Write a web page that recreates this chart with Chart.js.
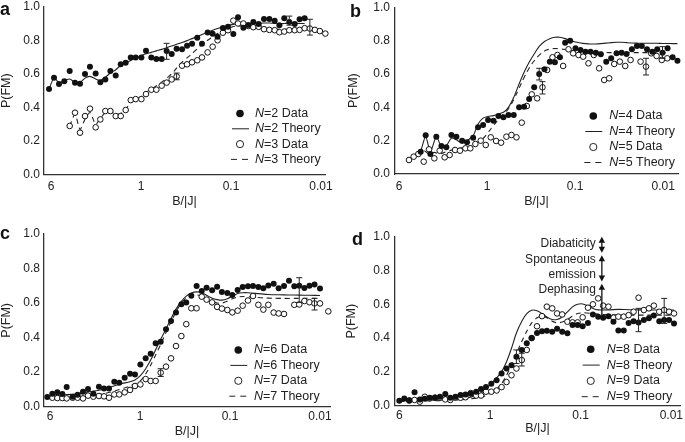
<!DOCTYPE html>
<html><head><meta charset="utf-8"><title>P(FM) vs B/|J|</title>
<script src="https://cdn.jsdelivr.net/npm/chart.js@4.4.1/dist/chart.umd.min.js"></script>
<style>
html,body{margin:0;padding:0;background:#fff;}
#wrap{position:relative;width:685px;height:442px;overflow:hidden;background:#fff;}
#wrap canvas{position:absolute;}
</style></head><body><div id="wrap">
<canvas id="ca" width="340" height="215" style="left:0;top:0"></canvas>
<canvas id="cb" width="340" height="215" style="left:345px;top:0"></canvas>
<canvas id="cc" width="340" height="227" style="left:0;top:215px"></canvas>
<canvas id="cd" width="340" height="227" style="left:345px;top:215px"></canvas>
</div>
<script>
// ---------- shared axis texts ----------
const xTickValues = [10, 1, 0.1, 0.01];
const xTickLabels = ['6', '1', '0.1', '0.01'];
const yTickValues = [0, 0.2, 0.4, 0.6, 0.8, 1.0];
const yTickLabels = ['0.0', '0.2', '0.4', '0.6', '0.8', '1.0'];
const xTitle = 'B/|J|';
const yTitle = 'P(FM)';
const legendKinds = ['Data', 'Theory', 'Data', 'Theory'];

// ---------- panel a : N=2, N=3 ----------
const xA = [10.52,9.26,8.15,7.11,6.20,5.41,4.76,4.19,3.69,3.19,2.83,2.49,2.19,1.91,1.68,1.48,1.30,1.146,0.99,0.88,0.768,0.675,0.589,0.519,0.456,0.402,0.350,0.308,0.271,0.237,0.210,0.182,0.160,0.141,0.123,0.108,0.0942,0.0836,0.0729,0.0642,0.0565,0.0493,0.0430,0.0375,0.0327,0.0290,0.0256,0.0225,0.0196,0.0173,0.0152,0.0133,0.0117,0.0103,0.00895];
const dataA2 = [0.51,0.577,0.54,0.556,0.617,0.548,0.542,0.60,0.643,0.603,
 0.55,0.567,0.617,0.591,0.657,0.667,0.698,0.698,0.698,0.738,
 0.698,0.688,0.688,0.736,0.718,0.75,0.746,0.768,0.78,0.815,
 0.78,0.847,0.839,0.821,0.873,0.881,0.837,0.937,0.875,0.891,
 0.909,0.897,0.927,0.927,0.917,0.889,0.931,0.909,0.897,0.925,
 0.931,null,null,null,null];
const dataA3 = [null,null,null,null,0.29,0.369,0.25,0.349,0.393,0.282,
 0.329,0.379,0.379,0.349,0.349,0.385,0.444,0.45,0.45,0.48,
 0.506,0.506,0.53,0.548,0.567,0.585,0.649,0.657,0.669,0.681,
 0.698,0.728,0.762,0.80,0.845,0.86,0.917,0.90,0.90,0.885,
 0.878,0.88,0.866,0.862,0.86,0.848,0.852,0.86,0.86,0.862,
 0.872,0.87,0.862,0.855,0.84];
const theoryA2 = [0.51,0.575,0.548,0.56,0.57,0.55,0.55,0.575,0.585,0.57,
 0.56,0.58,0.605,0.625,0.65,0.665,0.68,0.695,0.71,0.72,
 0.728,0.737,0.746,0.756,0.766,0.776,0.787,0.798,0.81,0.822,
 0.835,0.848,0.86,0.87,0.88,0.888,0.895,0.9,0.903,0.9,
 0.898,0.9,0.903,0.903,0.9,0.898,0.9,0.902,0.902,0.9,
 0.9,null,null,null,null];
const theoryA3 = [null,null,null,null,0.29,0.36,0.27,0.33,0.37,0.30,
 0.335,0.37,0.375,0.36,0.365,0.39,0.43,0.45,0.465,0.49,
 0.51,0.53,0.55,0.575,0.60,0.635,0.67,0.695,0.72,0.75,
 0.775,0.80,0.82,0.84,0.858,0.872,0.882,0.886,0.885,0.88,
 0.876,0.873,0.87,0.868,0.866,0.866,0.866,0.866,0.866,0.866,
 0.866,0.866,0.866,0.866,null];
const errAx = [0.519, 0.402, 0.0225, 0.0133];
const errAlo = [0.687, 0.565, 0.89, 0.831];
const errAhi = [0.782, 0.605, 0.944, 0.925];
const legendNA = [2, 2, 3, 3];

// ---------- panel b : N=4, N=5 ----------
const xB4 = [5.67,4.98,4.40,3.77,3.30,2.90,2.54,2.23,1.92,1.69,1.44,1.266,1.11,0.974,0.847,0.743,0.652,0.572,0.498,0.433,0.380,0.333,0.292,0.256,0.223,0.194,0.170,0.149,0.130,0.114,0.0991,0.0870,0.0763,0.0670,0.0582,0.0511,0.0444,0.0390,0.0339,0.0297,0.0261,0.0227,0.0199,0.0175,0.0153,0.0133,0.0117,0.0102,0.00893,0.00783,0.0069];
const dataB4 = [0.134,0.232,0.12,0.224,0.168,0.16,0.234,0.224,0.20,0.19,
 0.218,0.28,0.294,0.324,0.32,0.348,0.34,0.354,0.354,0.40,
 0.404,0.45,0.52,0.60,0.628,0.674,0.67,0.70,0.788,0.80,
 0.754,0.744,0.734,0.734,0.728,0.718,0.674,0.694,0.724,0.728,
 0.72,0.748,0.768,0.768,0.748,0.734,0.748,0.728,0.754,0.70,0.68];
const theoryB4 = [0.134,0.224,0.134,0.224,0.164,0.17,0.215,0.205,0.185,0.20,
 0.23,0.30,0.335,0.345,0.35,0.36,0.37,0.40,0.46,0.54,
 0.61,0.67,0.72,0.765,0.795,0.812,0.82,0.82,0.812,0.80,
 0.792,0.786,0.782,0.78,0.78,0.782,0.785,0.788,0.79,0.79,
 0.788,0.786,0.785,0.784,0.784,0.784,0.784,0.783,0.783,0.782,0.782];
const xB5 = [7.70,6.81,6.03,5.24,4.56,3.97,3.45,3.03,2.66,2.31,2.03,1.76,1.55,1.357,1.18,1.036,0.908,0.790,0.693,0.603,0.529,0.464,0.404,0.354,0.311,0.270,0.235,0.208,0.181,0.159,0.137,0.119,0.1054,0.0917,0.0811,0.0706,0.0614,0.0534,0.0468,0.0411,0.0360,0.0311,0.0270,0.0235,0.0206,0.0181,0.0157,0.0137,0.0119,0.0104,0.0090];
const dataB5 = [0.084,0.104,0.12,0.074,0.148,0.094,0.14,0.10,0.114,0.144,
 0.14,0.154,0.154,0.18,0.20,0.174,0.22,0.198,0.188,0.224,
 0.234,0.22,0.308,0.408,0.478,0.454,0.52,0.624,0.70,0.714,
 0.648,0.748,0.724,0.714,0.704,0.664,0.714,0.634,0.564,0.574,
 0.66,0.674,0.648,0.684,null,0.674,0.644,0.724,0.708,0.684,0.694];
const theoryB5 = [0.088,0.10,0.114,0.14,0.12,0.13,0.12,0.13,0.14,0.15,
 0.155,0.16,0.17,0.185,0.20,0.23,0.27,0.31,0.345,0.375,
 0.42,0.48,0.55,0.61,0.66,0.70,0.73,0.745,0.752,0.752,
 0.748,0.744,0.74,0.737,0.735,0.733,0.731,0.73,0.729,0.728,
 0.728,0.728,0.728,0.728,0.728,0.728,0.728,0.728,0.728,0.728,0.728];
const errBx = [0.256, 0.235, 0.0102, 0.0157];
const errBlo = [0.564, 0.48, 0.694, 0.594];
const errBhi = [0.634, 0.554, 0.764, 0.694];
const legendNB = [4, 4, 5, 5];

// ---------- panel c : N=6, N=7 ----------
const xC = [10.71,9.42,8.29,7.29,6.53,5.60,4.93,4.30,3.78,3.30,2.86,2.51,2.21,1.93,1.70,1.48,1.29,1.137,0.99,0.865,0.761,0.670,0.589,0.514,0.452,0.398,0.347,0.306,0.269,0.235,0.206,0.182,0.158,0.139,0.123,0.107,0.0942,0.0822,0.0723,0.0631,0.0555,0.0484,0.0426,0.0375,0.0327,0.0288,0.0251,0.0221,0.0193,0.0170,0.0149,0.0131,0.0115,0.0100,0.00808];
const dataC6 = [0.056,0.075,0.083,0.073,0.114,0.058,0.069,0.087,0.102,0.075,
 0.116,0.106,0.106,0.145,0.139,0.168,0.191,0.187,0.245,0.28,
 0.307,0.367,0.376,0.448,0.496,0.546,0.593,0.604,0.643,0.699,
 0.67,0.689,0.675,0.695,0.664,0.658,0.647,0.676,0.693,0.697,
 0.699,0.693,0.686,0.702,0.712,0.686,0.699,0.73,0.697,0.70,
 0.688,0.70,0.708,0.685,null];
const dataC7 = [null,0.052,0.05,0.05,0.048,0.052,0.052,0.048,0.064,0.058,
 0.062,0.06,0.052,0.071,0.071,0.083,0.097,0.12,0.129,0.16,
 0.149,0.149,0.197,0.232,0.28,0.351,0.409,0.478,0.57,0.57,
 0.637,0.62,0.604,0.578,0.568,0.56,0.546,0.556,0.585,0.615,
 0.641,0.59,0.562,0.59,0.545,0.54,0.537,null,0.59,0.592,
 0.612,0.605,0.598,0.598,0.552];
const theoryC6 = [0.056,null,0.065,null,0.07,null,0.075,null,0.085,null,
 0.095,null,0.11,null,0.13,null,0.145,0.155,0.18,0.22,
 0.27,0.33,0.39,0.45,0.51,0.565,0.61,0.64,0.658,0.665,
 0.66,0.645,0.628,0.62,0.617,0.625,0.64,0.655,0.66,0.66,
 null,0.655,null,0.65,null,0.648,null,0.647,null,0.646,
 null,0.645,null,0.644,null];
const theoryC7 = [null,0.05,null,null,0.055,null,null,0.06,null,null,
 0.07,null,null,0.09,null,null,0.12,null,0.15,0.19,
 0.24,0.30,0.36,0.43,0.49,0.55,0.60,0.63,0.645,0.648,
 0.64,0.625,0.61,0.60,0.60,0.61,0.625,0.635,0.638,null,
 0.635,null,0.63,null,0.628,null,0.627,null,0.627,null,
 0.627,null,0.627,0.627,null];
const errCx = [0.017, 0.0115, 0.589];
const errClo = [0.604, 0.56, 0.175];
const errChi = [0.747, 0.627, 0.22];
const legendNC = [6, 6, 7, 7];

// ---------- panel d : N=8, N=9 ----------
const xD = [10.0,8.81,7.77,6.79,5.94,5.24,4.62,4.04,3.56,3.11,2.74,2.40,2.11,1.86,1.63,1.42,1.254,1.106,0.967,0.845,0.745,0.657,0.579,0.511,0.446,0.393,0.347,0.303,0.267,0.236,0.206,0.182,0.160,0.140,0.123,0.108,0.0951,0.0831,0.0733,0.0641,0.0565,0.0494,0.0435,0.0384,0.0335,0.0296,0.0261,0.0230,0.0201,0.0177,0.0156,0.0136,0.0120,0.0106,0.00935];
const dataD8 = [0.03,0.043,0.032,0.079,0.037,0.041,0.047,0.049,0.053,0.069,
 0.047,0.053,0.063,0.067,0.071,0.083,0.099,0.11,0.13,0.15,
 0.19,0.22,0.24,0.29,0.33,0.37,0.40,0.43,0.44,0.444,
 0.438,0.455,0.438,0.428,0.477,0.477,0.47,0.49,0.54,0.527,
 0.52,0.53,0.497,0.445,0.445,0.49,0.50,0.493,0.507,0.517,
 0.533,0.50,0.507,0.507,0.487];
const dataD9 = [null,null,0.03,0.034,0.024,0.053,0.043,0.047,0.047,0.037,
 0.034,0.049,0.047,0.05,0.075,0.06,0.06,0.083,0.083,0.09,
 0.11,0.14,0.18,0.22,0.27,0.33,0.40,0.47,0.53,0.586,
 0.576,0.546,0.54,0.497,0.493,0.493,0.523,0.58,0.60,0.635,
 0.592,0.586,0.521,0.527,0.527,0.536,0.556,0.639,0.566,0.576,
 0.592,0.556,0.566,0.556,0.546];
const theoryD8 = [0.03,null,null,0.03,null,null,0.032,null,null,0.035,
 null,null,0.04,null,0.05,null,0.075,0.10,0.13,0.165,
 0.20,0.26,0.34,0.43,0.50,0.545,0.565,0.562,0.545,0.525,
 0.51,0.51,0.525,0.555,0.585,0.60,0.602,0.59,0.575,0.567,
 null,0.567,null,0.57,null,0.568,null,0.567,null,0.567,
 null,0.566,null,0.566,0.566];
const theoryD9 = [0.025,null,null,null,0.028,null,null,null,0.03,null,
 null,null,0.035,null,null,0.045,null,0.06,0.08,0.10,
 0.13,0.18,0.24,0.31,0.38,0.44,0.49,0.52,0.53,0.52,
 0.50,0.49,0.495,0.51,0.53,0.545,0.55,null,0.545,null,
 0.54,null,0.538,null,0.536,null,0.536,null,0.536,null,
 0.536,null,0.536,null,0.536];
const errDx = [0.511, 0.446, 0.023, 0.012];
const errDlo = [0.25, 0.235, 0.438, 0.487];
const errDhi = [0.33, 0.31, 0.576, 0.635];
const legendND = [8, 8, 9, 9];

// annotation in panel d
const noteTexts = ['Diabaticity', 'Spontaneous', 'emission', 'Dephasing'];
const noteTextY = [0.96, 0.865, 0.773, 0.684];
const noteArrowX = 0.0584;
const noteArrowFrom = [0.905, 0.735, 0.535];
const noteArrowTo = [1.0, 0.89, 0.722];
const noteArrowBoth = [true, true, false];

// ---------- drawing ----------
const FAM = '"Liberation Sans", Arial, Helvetica, sans-serif';
Chart.defaults.font.family = FAM;
Chart.defaults.color = '#222';

function pts(xs, ys) {
  const out = [];
  xs.forEach((x, i) => { const y = ys[i]; if (y !== null && y !== undefined) out.push({x: x, y: y}); });
  return out;
}

function head(ctx, x, y, dir) {
  ctx.beginPath();
  ctx.moveTo(x, y);
  ctx.lineTo(x - 3.2, y - dir * 6);
  ctx.lineTo(x + 3.2, y - dir * 6);
  ctx.closePath();
  ctx.fill();
}

function decoPlugin(g, s) {
  return {
    id: 'deco_' + g.letter,
    afterDatasetsDraw(chart) {
      const ctx = chart.ctx, xs = chart.scales.x, ys = chart.scales.y;
      ctx.save();
      // error bars
      ctx.strokeStyle = '#222'; ctx.lineWidth = 1;
      s.ex.forEach((xv, i) => {
        const px = xs.getPixelForValue(xv);
        const y1 = ys.getPixelForValue(s.elo[i]), y2 = ys.getPixelForValue(s.ehi[i]);
        ctx.beginPath();
        ctx.moveTo(px, y1); ctx.lineTo(px, y2);
        ctx.moveTo(px - 3, y1); ctx.lineTo(px + 3, y1);
        ctx.moveTo(px - 3, y2); ctx.lineTo(px + 3, y2);
        ctx.stroke();
      });
      // legend
      const L = g.legend;
      const f = '12.5px ' + FAM;
      ctx.textBaseline = 'middle'; ctx.textAlign = 'left';
      for (let i = 0; i < 4; i++) {
        const y = L.y0 + i * L.dy;
        ctx.strokeStyle = '#222'; ctx.fillStyle = '#111'; ctx.lineWidth = 1;
        if (i === 0) { ctx.beginPath(); ctx.arc(L.sx, y, 3.8, 0, Math.PI * 2); ctx.fill(); }
        if (i === 2) { ctx.beginPath(); ctx.arc(L.sx, y, 3.6, 0, Math.PI * 2); ctx.fillStyle = '#fff'; ctx.fill(); ctx.stroke(); }
        if (i === 1) { ctx.beginPath(); ctx.moveTo(L.sx - 8, y); ctx.lineTo(L.sx + 9, y); ctx.stroke(); }
        if (i === 3) { ctx.beginPath(); ctx.moveTo(L.sx - 9, y); ctx.lineTo(L.sx - 3, y); ctx.moveTo(L.sx + 2, y); ctx.lineTo(L.sx + 8, y); ctx.stroke(); }
        ctx.fillStyle = '#222';
        ctx.font = 'italic ' + f;
        ctx.fillText('N', L.tx, y);
        const w = ctx.measureText('N').width;
        ctx.font = f;
        ctx.fillText('=' + s.legendN[i] + ' ' + legendKinds[i], L.tx + w, y);
      }
      // panel letter
      ctx.font = 'bold 18px ' + FAM; ctx.fillStyle = '#111';
      ctx.textBaseline = 'alphabetic'; ctx.textAlign = 'left';
      ctx.fillText(g.letter, g.lx, g.ly);
      // notes
      if (s.notes) {
        const ax = xs.getPixelForValue(noteArrowX);
        ctx.font = '12px ' + FAM; ctx.fillStyle = '#222';
        ctx.textAlign = 'right'; ctx.textBaseline = 'middle';
        noteTexts.forEach((t, i) => ctx.fillText(t, ax - 6, ys.getPixelForValue(noteTextY[i])));
        ctx.strokeStyle = '#111'; ctx.fillStyle = '#111'; ctx.lineWidth = 1.3;
        noteArrowFrom.forEach((v, i) => {
          const yb = ys.getPixelForValue(v), yt = ys.getPixelForValue(noteArrowTo[i]);
          ctx.beginPath(); ctx.moveTo(ax, yb - (noteArrowBoth[i] ? 3 : 0)); ctx.lineTo(ax, yt + 3); ctx.stroke();
          head(ctx, ax, yt, -1);
          if (noteArrowBoth[i]) head(ctx, ax, yb, 1);
        });
      }
      ctx.restore();
    }
  };
}

function buildPanel(g, s) {
  const datasets = [
    {data: pts(s.x1, s.d1), showLine: false, pointRadius: 3, pointBackgroundColor: '#111', pointBorderColor: '#111', pointBorderWidth: 0, order: 1, clip: false},
    {data: pts(s.x2, s.d2), showLine: false, pointRadius: 2.8, pointBackgroundColor: '#fff', pointBorderColor: '#111', pointBorderWidth: 1, order: 2, clip: false},
    {data: pts(s.x1, s.t1), showLine: true, borderColor: '#222', borderWidth: 1.1, pointRadius: 0, tension: 0.25, order: 3},
    {data: pts(s.x2, s.t2), showLine: true, borderColor: '#222', borderWidth: 1.1, borderDash: [5, 4], pointRadius: 0, tension: 0.25, order: 4}
  ];
  new Chart(document.getElementById(g.id), {
    type: 'scatter',
    data: {datasets},
    options: {
      responsive: false, animation: false, events: [],
      layout: {padding: {left: 0, right: g.padR, top: g.padT, bottom: 0}},
      plugins: {legend: {display: false}, tooltip: {enabled: false}},
      scales: {
        x: {
          type: 'logarithmic', reverse: true, min: g.xmin, max: g.xmax,
          afterBuildTicks: sc => { sc.ticks = xTickValues.map(v => ({value: v})); },
          afterFit: sc => { sc.height = g.xh; sc.paddingLeft = 0; sc.paddingRight = 0; },
          grid: {display: false, drawTicks: false},
          border: {display: true, color: '#333', width: 1.3},
          ticks: {autoSkip: false, maxRotation: 0, minRotation: 0, padding: g.xtp, font: {size: 12}, color: '#222', callback: (v, i) => xTickLabels[i]},
          title: {display: true, text: xTitle, font: {size: 12.5, lineHeight: 1}, color: '#222', padding: {top: 0, bottom: g.xtb}}
        },
        y: {
          type: 'linear', min: 0, max: 1,
          afterBuildTicks: sc => { sc.ticks = yTickValues.map(v => ({value: v})); },
          afterFit: sc => { sc.width = g.yw; sc.paddingTop = 0; sc.paddingBottom = 0; },
          grid: {display: false, drawTicks: false},
          border: {display: true, color: '#333', width: 1.3},
          ticks: {padding: g.ytp, font: {size: 12}, color: '#222', callback: (v, i) => yTickLabels[i]},
          title: {display: true, text: yTitle, font: {size: 12.5, lineHeight: 1}, color: '#222', padding: {top: g.ytt, bottom: 0}}
        }
      }
    },
    plugins: [decoPlugin(g, s)]
  });
}

buildPanel(
  {id: 'ca', letter: 'a', lx: 0, ly: 15, yw: 44, padR: 15, padT: 6.7, xh: 40.3, xmin: 0.00903, xmax: 11.96, xtp: 5, xtb: 7.3, ytp: 4, ytt: 0,
   legend: {sx: 240, tx: 255, y0: 113.5, dy: 15.3}},
  {x1: xA, d1: dataA2, t1: theoryA2, x2: xA, d2: dataA3, t2: theoryA3, ex: errAx, elo: errAlo, ehi: errAhi, legendN: legendNA});
buildPanel(
  {id: 'cb', letter: 'b', lx: 5, ly: 17, yw: 50, padR: 7, padT: 7.3, xh: 41, xmin: 0.0068, xmax: 11.1, xtp: 5.8, xtb: 7.3, ytp: 5, ytt: 2.3,
   legend: {sx: 248.3, tx: 264.3, y0: 116, dy: 15.5}},
  {x1: xB4, d1: dataB4, t1: theoryB4, x2: xB5, d2: dataB5, t2: theoryB5, ex: errBx, elo: errBlo, ehi: errBhi, legendN: legendNB});
buildPanel(
  {id: 'cc', letter: 'c', lx: 0, ly: 23.5, yw: 44, padR: 10, padT: 19, xh: 35.3, xmin: 0.00774, xmax: 11.66, xtp: 3, xtb: 4, ytp: 4, ytt: 0,
   legend: {sx: 238.3, tx: 254, y0: 135, dy: 15.4}},
  {x1: xC, d1: dataC6, t1: theoryC6, x2: xC, d2: dataC7, t2: theoryC7, ex: errCx, elo: errClo, ehi: errChi, legendN: legendNC});
buildPanel(
  {id: 'cd', letter: 'd', lx: 7, ly: 30, yw: 50, padR: 3, padT: 21.7, xh: 36.3, xmin: 0.00803, xmax: 11.15, xtp: 2.4, xtb: 7, ytp: 5, ytt: 0.7,
   legend: {sx: 245.7, tx: 261.7, y0: 134.3, dy: 15.8}},
  {x1: xD, d1: dataD8, t1: theoryD8, x2: xD, d2: dataD9, t2: theoryD9, ex: errDx, elo: errDlo, ehi: errDhi, legendN: legendND, notes: true});
</script>
</body></html>
